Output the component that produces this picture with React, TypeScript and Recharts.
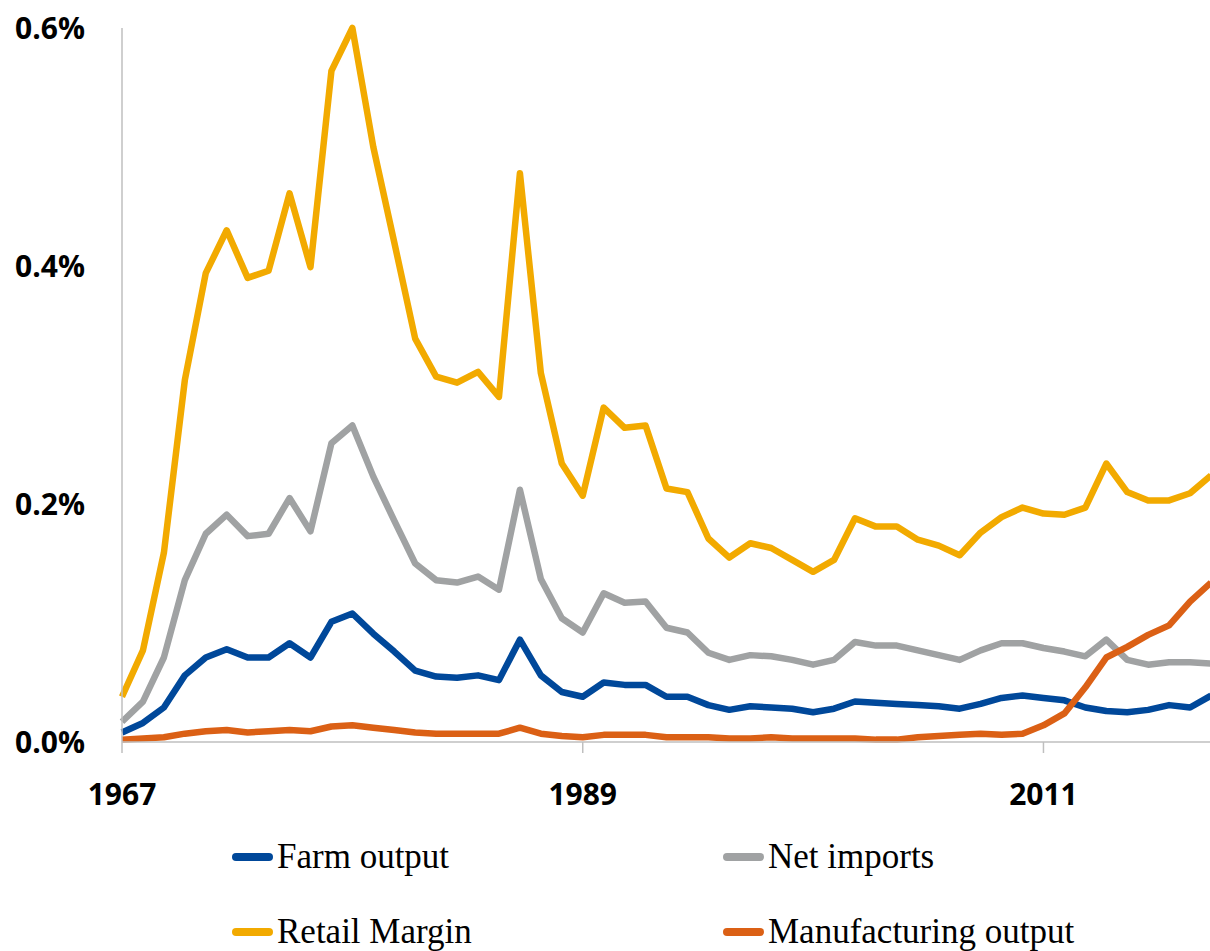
import { LineChart, Line, XAxis, YAxis, Legend } from 'recharts'

const years = [
  1967, 1968, 1969, 1970, 1971, 1972, 1973, 1974, 1975, 1976,
  1977, 1978, 1979, 1980, 1981, 1982, 1983, 1984, 1985, 1986,
  1987, 1988, 1989, 1990, 1991, 1992, 1993, 1994, 1995, 1996,
  1997, 1998, 1999, 2000, 2001, 2002, 2003, 2004, 2005, 2006,
  2007, 2008, 2009, 2010, 2011, 2012, 2013, 2014, 2015, 2016,
  2017, 2018, 2019,
]

const farmOutput = [
  0.008, 0.016, 0.029, 0.056, 0.071, 0.078, 0.071, 0.071, 0.083, 0.071,
  0.101, 0.108, 0.091, 0.076, 0.060, 0.055, 0.054, 0.056, 0.052, 0.086,
  0.056, 0.042, 0.038, 0.050, 0.048, 0.048, 0.038, 0.038, 0.031, 0.027,
  0.030, 0.029, 0.028, 0.025, 0.028, 0.034, 0.033, 0.032, 0.031, 0.030,
  0.028, 0.032, 0.037, 0.039, 0.037, 0.035, 0.029, 0.026, 0.025, 0.027,
  0.031, 0.029, 0.039,
]

const netImports = [
  0.017, 0.034, 0.071, 0.136, 0.175, 0.191, 0.173, 0.175, 0.205, 0.177,
  0.251, 0.266, 0.223, 0.186, 0.150, 0.136, 0.134, 0.139, 0.128, 0.212,
  0.137, 0.104, 0.092, 0.125, 0.117, 0.118, 0.096, 0.092, 0.075, 0.069,
  0.073, 0.072, 0.069, 0.065, 0.069, 0.084, 0.081, 0.081, 0.077, 0.073,
  0.069, 0.077, 0.083, 0.083, 0.079, 0.076, 0.072, 0.086, 0.069, 0.065,
  0.067, 0.067, 0.066,
]

const retailMargin = [
  0.038, 0.077, 0.159, 0.304, 0.394, 0.430, 0.390, 0.396, 0.461, 0.399,
  0.564, 0.600, 0.500, 0.420, 0.339, 0.307, 0.302, 0.311, 0.290, 0.478,
  0.310, 0.234, 0.207, 0.281, 0.264, 0.266, 0.213, 0.210, 0.171, 0.155,
  0.167, 0.163, 0.153, 0.143, 0.153, 0.188, 0.181, 0.181, 0.170, 0.165,
  0.157, 0.176, 0.189, 0.197, 0.192, 0.191, 0.197, 0.234, 0.210, 0.203,
  0.203, 0.209, 0.224,
]

const manufacturingOutput = [
  0.002, 0.003, 0.004, 0.007, 0.009, 0.010, 0.008, 0.009, 0.010, 0.009,
  0.013, 0.014, 0.012, 0.010, 0.008, 0.007, 0.007, 0.007, 0.007, 0.012,
  0.007, 0.005, 0.004, 0.006, 0.006, 0.006, 0.004, 0.004, 0.004, 0.003,
  0.003, 0.004, 0.003, 0.003, 0.003, 0.003, 0.002, 0.002, 0.004, 0.005,
  0.006, 0.007, 0.006, 0.007, 0.014, 0.024, 0.046, 0.071, 0.080, 0.090,
  0.098, 0.118, 0.134,
]

const seriesNames = ['Farm output', 'Net imports', 'Retail Margin', 'Manufacturing output']
const xTicks = [1967, 1989, 2011]
const yTicks = [0, 0.2, 0.4, 0.6]

const data = years.map((year, i) => ({
  year,
  farm: farmOutput[i],
  imports: netImports[i],
  retail: retailMargin[i],
  manufacturing: manufacturingOutput[i],
}))

const AXIS_GREY = '#BFBFBF'
const tickFont = { fontFamily: '"Open Sans", sans-serif', fontWeight: 700, fontSize: 30, fill: '#000' }

// two columns, two rows, like the original
const legendSpots = [
  { left: 232, top: 12 },
  { left: 723, top: 12 },
  { left: 232, top: 87 },
  { left: 723, top: 87 },
]

const CustomLegend = ({ payload }: any) => {
  if (!payload) return null
  return (
    <div style={{ position: 'relative', width: 1210, height: 126 }}>
      {payload.map((entry: any) => {
        const spot = legendSpots[seriesNames.indexOf(entry.value)]
        return (
          <div
            key={entry.value}
            style={{
              position: 'absolute',
              left: spot.left,
              top: spot.top,
              height: 40,
              display: 'flex',
              alignItems: 'center',
              whiteSpace: 'nowrap',
            }}
          >
            <div style={{ width: 41, height: 8, borderRadius: 4, background: entry.color }} />
            <span
              style={{
                marginLeft: 4,
                fontFamily: '"Liberation Serif", "Times New Roman", serif',
                fontSize: 35,
                lineHeight: '40px',
                color: '#000',
              }}
            >
              {entry.value}
            </span>
          </div>
        )
      })}
    </div>
  )
}

export default function App() {
  return (
    <div style={{ position: 'fixed', left: 0, top: 0, width: 1210, height: 951, overflow: 'hidden', background: '#fff' }}>
      <LineChart width={1212} height={951} data={data} margin={{ top: 28, right: 1, left: 0, bottom: 149 }}>
        <XAxis
          dataKey="year"
          type="number"
          domain={[1967, 2019]}
          ticks={xTicks}
          interval={0}
          height={60}
          stroke={AXIS_GREY}
          strokeWidth={1.5}
          tickSize={11}
          tickMargin={31}
          tick={tickFont}
        />
        <YAxis
          domain={[0, 0.6]}
          ticks={yTicks}
          width={122}
          stroke={AXIS_GREY}
          strokeWidth={1.5}
          tickLine={false}
          tickSize={0}
          tickMargin={37}
          tick={tickFont}
          tickFormatter={(v: number) => `${v.toFixed(1)}%`}
        />
        <Legend
          verticalAlign="middle"
          layout="horizontal"
          wrapperStyle={{ top: 825, left: 0, width: 1210, height: 126 }}
          content={<CustomLegend />}
        />
        <Line dataKey="farm" name={seriesNames[0]} stroke="#00489A" strokeWidth={6.5} strokeLinejoin="round" dot={false} isAnimationActive={false} />
        <Line dataKey="imports" name={seriesNames[1]} stroke="#A0A2A3" strokeWidth={6.5} strokeLinejoin="round" dot={false} isAnimationActive={false} />
        <Line dataKey="retail" name={seriesNames[2]} stroke="#F2AA00" strokeWidth={6.5} strokeLinejoin="round" dot={false} isAnimationActive={false} />
        <Line dataKey="manufacturing" name={seriesNames[3]} stroke="#DB6015" strokeWidth={6.5} strokeLinejoin="round" dot={false} isAnimationActive={false} />
      </LineChart>
    </div>
  )
}
